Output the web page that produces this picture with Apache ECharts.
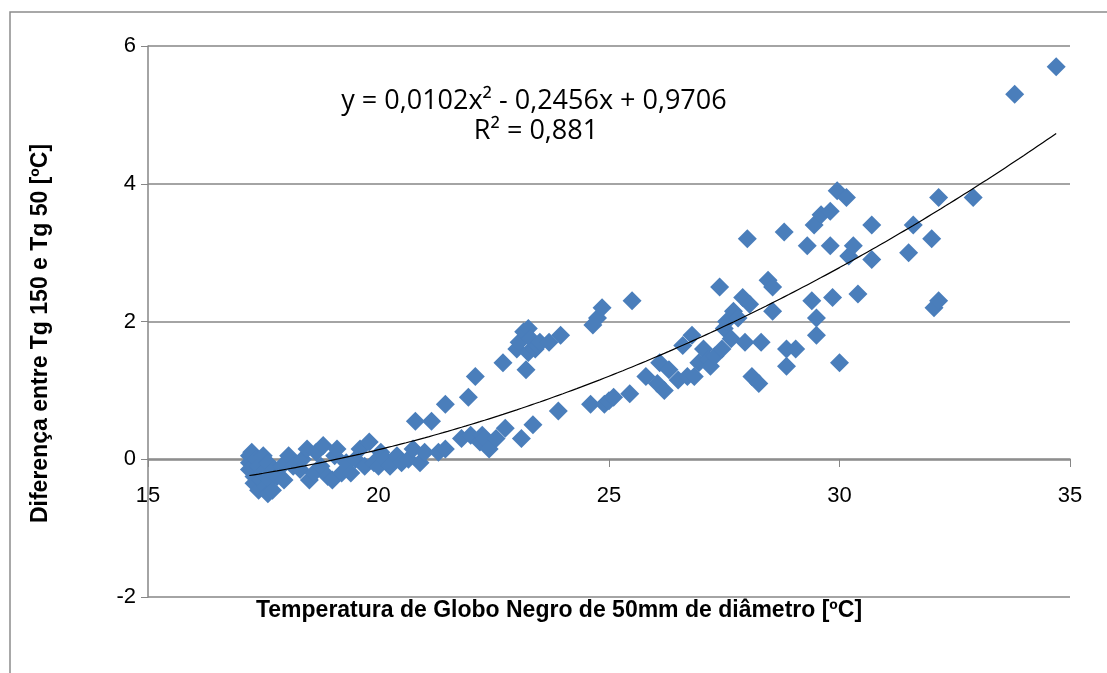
<!DOCTYPE html>
<html>
<head>
<meta charset="utf-8">
<script src="https://cdn.jsdelivr.net/npm/echarts@6/dist/echarts.min.js"></script>
<style>
  html, body { margin: 0; padding: 0; background: #fff; }
  #chart { width: 1107px; height: 673px; }
</style>
</head>
<body>
<div id="chart"></div>
<script>
// Tg50 (x) e diferença Tg150 - Tg50 (y)
var tg50 = [
  17.2, 17.2, 17.2, 17.25, 17.3, 17.3, 17.35, 17.4, 17.4, 17.45, 17.5, 17.5, 17.55, 17.6, 17.6, 17.65, 17.7, 17.75, 17.8, 17.9, 17.95,
  18.05, 18.15, 18.3, 18.35, 18.45, 18.5, 18.6, 18.65, 18.75, 18.8, 18.9, 19.0, 19.05, 19.1, 19.2, 19.3, 19.4, 19.5,
  19.6, 19.7, 19.8, 19.9, 20.0, 20.05, 20.15, 20.25, 20.4, 20.5,
  20.65, 20.75, 20.8, 20.9, 21.0, 21.15, 21.3, 21.45, 21.45,
  21.8, 21.95, 22.0, 22.1, 22.2, 22.25, 22.3, 22.4, 22.55, 22.7, 22.75,
  23.0, 23.05, 23.1, 23.15, 23.2, 23.25, 23.25, 23.3, 23.35, 23.4, 23.45, 23.5, 23.7, 23.95, 23.9,
  24.6, 24.65, 24.75, 24.85, 24.9, 25.0, 25.1, 25.45, 25.5,
  25.8, 26.05, 26.1, 26.2, 26.3, 26.5, 26.6, 26.7, 26.8, 26.85, 26.95, 27.05,
  27.15, 27.2, 27.3, 27.4, 27.45, 27.5, 27.55, 27.65, 27.7, 27.8, 27.9, 27.95, 28.0, 28.05,
  28.1, 28.25, 28.3, 28.45, 28.55, 28.55, 28.8, 28.85, 28.85, 29.05,
  29.3, 29.4, 29.45, 29.5, 29.5, 29.6, 29.8, 29.8, 29.85, 29.95, 30.0,
  30.15, 30.2, 30.3, 30.4, 30.7, 30.7,
  31.5, 31.6, 32.0, 32.05, 32.15, 32.15, 32.9, 33.8, 34.7
];
var diff = [
  0.05, -0.05, -0.15, 0.1, -0.25, -0.35, 0.0, -0.1, -0.45, -0.3, 0.05, -0.2, -0.4, -0.5, -0.05, -0.3, -0.45, -0.15, -0.25, -0.1, -0.3,
  0.05, -0.1, -0.15, 0.0, 0.15, -0.3, -0.2, 0.1, -0.1, 0.2, -0.25, -0.3, 0.05, 0.15, -0.2, -0.05, -0.2, 0.0,
  0.15, -0.1, 0.25, -0.05, -0.1, 0.1, 0.0, -0.1, 0.05, -0.05,
  0.0, 0.15, 0.55, -0.05, 0.1, 0.55, 0.1, 0.15, 0.8,
  0.3, 0.9, 0.35, 1.2, 0.25, 0.35, 0.3, 0.15, 0.3, 1.4, 0.45,
  1.6, 1.7, 0.3, 1.85, 1.3, 1.9, 1.55, 1.75, 0.5, 1.6, 1.65, 1.7, 1.7, 1.8, 0.7,
  0.8, 1.95, 2.05, 2.2, 0.8, 0.85, 0.9, 0.95, 2.3,
  1.2, 1.1, 1.4, 1.0, 1.3, 1.15, 1.65, 1.2, 1.8, 1.2, 1.4, 1.6,
  1.45, 1.35, 1.5, 2.5, 1.6, 1.9, 2.0, 1.75, 2.15, 2.05, 2.35, 1.7, 3.2, 2.25,
  1.2, 1.1, 1.7, 2.6, 2.5, 2.15, 3.3, 1.6, 1.35, 1.6,
  3.1, 2.3, 3.4, 2.05, 1.8, 3.55, 3.6, 3.1, 2.35, 3.9, 1.4,
  3.8, 2.95, 3.1, 2.4, 3.4, 2.9,
  3.0, 3.4, 3.2, 2.2, 2.3, 3.8, 3.8, 5.3, 5.7
];
// linha de tendência polinomial (coeficientes da equação mostrada)
var trendCoef = [0.0102, -0.2456, 0.9706];
var trendRange = [17.2, 34.7];
var eqText = 'y = 0,0102x² - 0,2456x + 0,9706';
var r2Text = 'R² = 0,881';

var points = tg50.map(function(x, i) { return [x, diff[i]] });
var trend = [];
for (var x = trendRange[0]; x <= trendRange[1] + 1e-9; x += 0.1) {
  trend.push([x, trendCoef[0] * x * x + trendCoef[1] * x + trendCoef[2]]);
}

var chart = echarts.init(document.getElementById('chart'));
chart.setOption({
  animation: false,
  textStyle: { fontFamily: 'Liberation Sans' },
  grid: { left: 148, right: 37, top: 46, bottom: 76 },
  graphic: [
    { type: 'rect', shape: { x: 10, y: 12, width: 1200, height: 800 }, style: { fill: 'none', stroke: '#8c8c8c', lineWidth: 1.5 }, z: -1 },
    { type: 'text', x: 534, y: 101, style: { text: eqText, font: '27px "Open Sans"', fill: '#000', align: 'center', verticalAlign: 'middle' } },
    { type: 'text', x: 536, y: 131, style: { text: r2Text, font: '27px "Open Sans"', fill: '#000', align: 'center', verticalAlign: 'middle' } }
  ],
  xAxis: {
    type: 'value', min: 15, max: 35, interval: 5,
    name: 'Temperatura de Globo Negro de 50mm de diâmetro [ºC]',
    nameLocation: 'middle', nameGap: 140,
    nameTextStyle: { fontSize: 23, fontWeight: 'bold', color: '#000', padding: [0, 100, 0, 0] },
    offset: -138,
    axisLine: { onZero: false, lineStyle: { color: '#868686', width: 1.5 } },
    axisTick: { show: true, length: 8, lineStyle: { color: '#868686' } },
    axisLabel: { margin: 26, fontSize: 22, color: '#000' },
    splitLine: { show: false }
  },
  yAxis: {
    type: 'value', min: -2, max: 6, interval: 2,
    name: 'Diferença entre Tg 150 e Tg 50 [ºC]',
    nameLocation: 'middle', nameGap: 96,
    nameTextStyle: { fontSize: 23, fontWeight: 'bold', color: '#000', padding: [0, 24, 0, 0] },
    axisLine: { show: true, lineStyle: { color: '#868686', width: 1.5 } },
    axisTick: { show: true, length: 7, lineStyle: { color: '#868686' } },
    axisLabel: { margin: 12, fontSize: 22, color: '#000' },
    splitLine: { show: true, lineStyle: { color: '#868686', width: 1.5 } }
  },
  series: [
    {
      type: 'scatter', data: points, symbol: 'diamond', symbolSize: 19,
      itemStyle: { color: '#4a7ebb', opacity: 1 }, z: 2
    },
    {
      type: 'line', data: trend, showSymbol: false, smooth: false,
      lineStyle: { color: '#000', width: 1.2 }, z: 3
    }
  ]
});
</script>
</body>
</html>
